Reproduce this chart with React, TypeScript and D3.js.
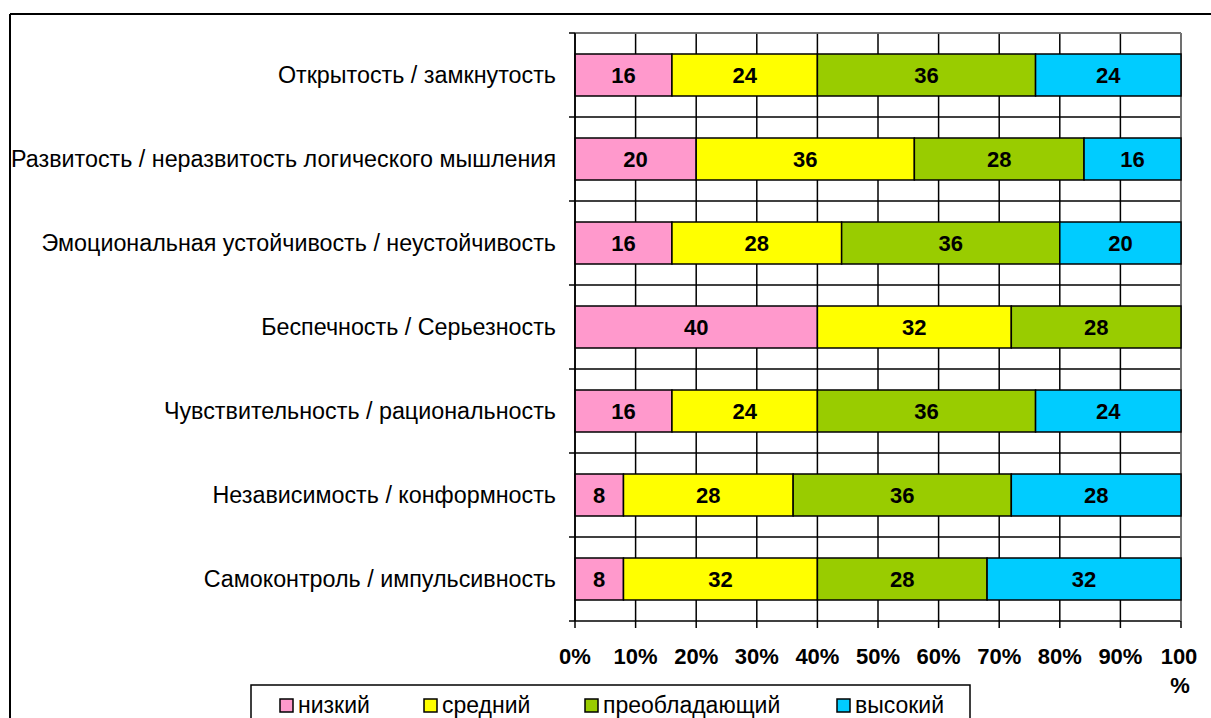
import React from "react";
import * as d3 from "d3";

const categories = [
  "Открытость / замкнутость",
  "Развитость / неразвитость логического мышления",
  "Эмоциональная устойчивость / неустойчивость",
  "Беспечность / Серьезность",
  "Чувствительность / рациональность",
  "Независимость / конформность",
  "Самоконтроль / импульсивность",
];
const seriesNames = ["низкий", "средний", "преобладающий", "высокий"];
const seriesColors = ["#FF99CC", "#FFFF00", "#99CC00", "#00CCFF"];
const low = [16, 20, 16, 40, 16, 8, 8];
const medium = [24, 36, 28, 32, 24, 28, 32];
const dominant = [36, 28, 36, 28, 36, 36, 28];
const high = [24, 16, 20, 0, 24, 28, 32];
const xTicks = [0, 10, 20, 30, 40, 50, 60, 70, 80, 90, 100];

export default function App() {
  const W = 1211, H = 718;
  const left = 575, right = 1181, top = 33, bottom = 621;
  const x = d3.scaleLinear().domain([0, 100]).range([left, right]);
  const y = d3.scaleBand().domain(categories).range([top, bottom]).paddingInner(0.5).paddingOuter(0.25);
  const yb = d3.scaleBand().domain(categories).range([top, bottom]);
  const table = categories.map((c, i) => ({ cat: c, "0": low[i], "1": medium[i], "2": dominant[i], "3": high[i] }));
  const stacked = d3.stack<any>().keys(["0", "1", "2", "3"]).offset(d3.stackOffsetExpand)(table);
  const font = "Arial, 'Liberation Sans', sans-serif";
  const legendX = [280, 424, 585, 837];
  return (
    <svg width={W} height={H} style={{ position: "absolute", left: 0, top: 0, background: "#fff" }} fontFamily={font}>
      <rect x={0} y={0} width={W} height={H} fill="#fff" />
      {/* outer border */}
      <line x1={10} y1={14} x2={W} y2={14} stroke="#000" strokeWidth={2} />
      <line x1={10} y1={14} x2={10} y2={H} stroke="#000" strokeWidth={2} />
      {/* vertical gridlines */}
      {xTicks.map((t) => (
        <line key={"vg" + t} x1={x(t)} x2={x(t)} y1={top} y2={bottom} stroke="#000" strokeWidth={1.5} />
      ))}
      {/* horizontal gridlines at category boundaries */}
      {categories.map((c) => (
        <line key={"hg" + c} x1={left - 6} x2={right} y1={yb(c)!} y2={yb(c)!} stroke="#000" strokeWidth={1.5} />
      ))}
      <line x1={left - 6} x2={right} y1={bottom} y2={bottom} stroke="#000" strokeWidth={1.5} />
      {/* plot border right/top gray */}
      <line x1={right} x2={right} y1={top} y2={bottom} stroke="#808080" strokeWidth={1.5} />
      <line x1={left} x2={right} y1={top} y2={top} stroke="#808080" strokeWidth={1.5} />
      {/* bars */}
      {stacked.map((s, si) =>
        s.map((d, i) => {
          const v = table[i][String(si) as "0"];
          if (!v) return null;
          const x0 = x(d[0] * 100), x1 = x(d[1] * 100);
          const yy = y(categories[i])!;
          return (
            <g key={si + "-" + i}>
              <rect x={x0} y={yy} width={x1 - x0} height={y.bandwidth()} fill={seriesColors[si]} stroke="#000" strokeWidth={1.5} />
              <text x={(x0 + x1) / 2} y={yy + y.bandwidth() / 2 + 8} textAnchor="middle" fontWeight="bold" fontSize={22}>{v}</text>
            </g>
          );
        })
      )}
      {/* y axis */}
      <line x1={left} x2={left} y1={top} y2={bottom} stroke="#000" strokeWidth={1.5} />
      {categories.map((c) => (
        <text key={"cl" + c} x={556} y={y(c)! + y.bandwidth() / 2 + 8} textAnchor="end" fontSize={23.3}>{c}</text>
      ))}
      {/* x axis ticks */}
      {xTicks.map((t) => (
        <line key={"xt" + t} x1={x(t)} x2={x(t)} y1={bottom} y2={bottom + 7} stroke="#000" strokeWidth={1.5} />
      ))}
      {xTicks.map((t) =>
        t === 100 ? (
          <g key={"xl" + t}>
            <text x={x(t) - 2} y={664} textAnchor="middle" fontWeight="bold" fontSize={22}>100</text>
            <text x={x(t) - 1} y={693} textAnchor="middle" fontWeight="bold" fontSize={22}>%</text>
          </g>
        ) : (
          <text key={"xl" + t} x={x(t)} y={664} textAnchor="middle" fontWeight="bold" fontSize={22}>{t + "%"}</text>
        )
      )}
      {/* legend */}
      <rect x={251} y={685} width={719} height={40} fill="#fff" stroke="#000" strokeWidth={1.5} />
      {seriesNames.map((n, i) => (
        <g key={"lg" + n}>
          <rect x={legendX[i]} y={699} width={13} height={13} fill={seriesColors[i]} stroke="#000" strokeWidth={1.5} />
          <text x={legendX[i] + 18} y={713} fontSize={23}>{n}</text>
        </g>
      ))}
    </svg>
  );
}
